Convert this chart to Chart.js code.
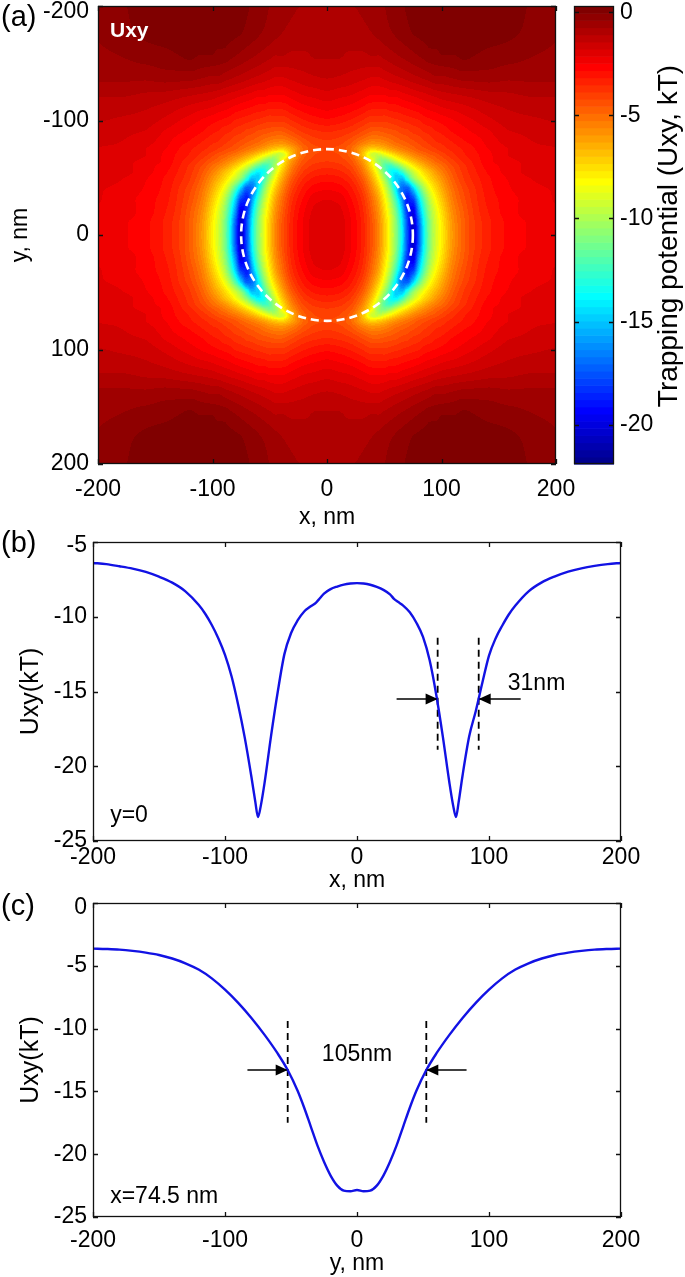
<!DOCTYPE html>
<html>
<head>
<meta charset="utf-8">
<title>Trapping potential Uxy</title>
<script src="https://cdn.jsdelivr.net/npm/chart.js@4.4.1/dist/chart.umd.min.js"></script>
<style>
  html, body { margin: 0; padding: 0; background: #ffffff; }
  #fig { position: relative; width: 685px; height: 1277px; overflow: hidden; background: #ffffff; }
  #fig canvas { position: absolute; left: 0; top: 0; }
</style>
</head>
<body>
<div id="fig">
  <canvas id="mapCanvas" width="685" height="1277"></canvas>
  <canvas id="barCanvas" width="685" height="1277"></canvas>
  <canvas id="profXCanvas" width="685" height="1277"></canvas>
  <canvas id="profYCanvas" width="685" height="1277"></canvas>
</div>
<script>
// ================= DATA =================
// (a) Uxy map (kT). The map is symmetric in x and y; values read on |x|, |y| nodes.
const mapTicks = [-200, -100, 0, 100, 200];
const gridX = [0,10,20,30,40,45,50,55,60,65,70,75,80,85,90,95,100,110,120,130,140,160,180,200];
const gridY = [0,10,20,30,40,50,55,60,65,70,75,80,90,100,120,140,160,180,200];
const uxyGrid = [
 /* y=0   */ [-1.8,-1.9,-2.4,-3.2,-4.6,-5.6,-7.0,-8.6,-10.6,-13.5,-17.5,-20.5,-17.5,-13.5,-10.8,-9.2,-8.0,-5.9,-4.6,-3.8,-3.3,-2.7,-2.4,-2.2],
 /* y=10  */ [-1.8,-1.9,-2.4,-3.2,-4.6,-5.6,-7.0,-8.6,-10.7,-13.6,-17.6,-20.4,-17.3,-13.4,-10.7,-9.1,-7.9,-5.8,-4.6,-3.8,-3.3,-2.7,-2.4,-2.2],
 /* y=20  */ [-1.9,-2.0,-2.5,-3.3,-4.8,-5.8,-7.3,-9.0,-11.2,-14.3,-18.2,-19.8,-16.2,-12.8,-10.3,-8.8,-7.6,-5.6,-4.5,-3.7,-3.2,-2.6,-2.3,-2.2],
 /* y=30  */ [-2.1,-2.2,-2.7,-3.5,-5.1,-6.2,-7.8,-9.7,-12.2,-15.5,-18.8,-18.3,-14.8,-11.8,-9.6,-8.2,-7.1,-5.3,-4.3,-3.6,-3.1,-2.6,-2.3,-2.1],
 /* y=40  */ [-2.5,-2.6,-3.0,-3.9,-5.7,-7.0,-8.7,-10.9,-13.8,-16.8,-17.5,-15.2,-12.3,-10.1,-8.5,-7.4,-6.5,-5.0,-4.1,-3.5,-3.0,-2.5,-2.2,-2.1],
 /* y=50  */ [-3.0,-3.1,-3.5,-4.5,-6.6,-8.2,-10.2,-12.6,-14.8,-15.0,-12.8,-10.6,-9.2,-8.1,-7.2,-6.5,-5.8,-4.6,-3.8,-3.3,-2.9,-2.4,-2.1,-2.0],
 /* y=55  */ [-3.3,-3.4,-3.8,-4.9,-7.2,-9.0,-11.2,-13.4,-14.0,-12.9,-11.0,-9.5,-8.3,-7.4,-6.7,-6.0,-5.4,-4.4,-3.7,-3.2,-2.8,-2.3,-2.0,-1.9],
 /* y=60  */ [-3.6,-3.7,-4.1,-5.3,-7.9,-9.8,-11.8,-12.6,-11.8,-10.4,-9.1,-8.0,-7.2,-6.5,-5.9,-5.4,-5.0,-4.2,-3.6,-3.1,-2.7,-2.3,-2.0,-1.9],
 /* y=65  */ [-3.9,-4.0,-4.4,-5.8,-8.5,-10.4,-11.0,-10.3,-9.2,-8.2,-7.4,-6.7,-6.1,-5.6,-5.2,-4.8,-4.5,-3.9,-3.4,-3.0,-2.6,-2.2,-2.0,-1.8],
 /* y=70  */ [-4.1,-4.2,-4.7,-6.5,-9.3,-9.5,-8.8,-8.0,-7.3,-6.6,-6.1,-5.6,-5.2,-4.9,-4.6,-4.4,-4.1,-3.6,-3.2,-2.9,-2.6,-2.1,-1.9,-1.8],
 /* y=75  */ [-4.2,-4.3,-4.8,-6.2,-7.3,-7.1,-6.7,-6.2,-5.8,-5.4,-5.1,-4.8,-4.5,-4.3,-4.1,-3.9,-3.7,-3.4,-3.1,-2.8,-2.5,-2.1,-1.9,-1.8],
 /* y=80  */ [-4.0,-4.1,-4.5,-5.3,-5.9,-5.8,-5.6,-5.3,-5.0,-4.8,-4.6,-4.4,-4.2,-4.0,-3.8,-3.6,-3.5,-3.2,-2.9,-2.7,-2.4,-2.0,-1.8,-1.7],
 /* y=90  */ [-3.5,-3.6,-3.8,-4.2,-4.6,-4.6,-4.5,-4.4,-4.3,-4.1,-4.0,-3.8,-3.7,-3.5,-3.4,-3.2,-3.1,-2.8,-2.6,-2.4,-2.2,-1.8,-1.7,-1.6],
 /* y=100 */ [-2.9,-3.0,-3.2,-3.5,-3.8,-3.8,-3.8,-3.7,-3.6,-3.5,-3.4,-3.3,-3.2,-3.0,-2.9,-2.8,-2.7,-2.5,-2.3,-2.1,-1.9,-1.6,-1.5,-1.4],
 /* y=120 */ [-2.0,-2.1,-2.2,-2.4,-2.6,-2.6,-2.6,-2.5,-2.5,-2.4,-2.3,-2.2,-2.1,-2.0,-1.9,-1.8,-1.7,-1.6,-1.5,-1.4,-1.3,-1.2,-1.1,-1.1],
 /* y=140 */ [-1.35,-1.4,-1.5,-1.6,-1.7,-1.7,-1.6,-1.5,-1.4,-1.3,-1.2,-1.1,-1.0,-0.9,-0.8,-0.7,-0.7,-0.6,-0.5,-0.5,-0.5,-0.6,-0.6,-0.6],
 /* y=160 */ [-1.0,-1.0,-1.1,-1.1,-1.0,-1.0,-0.9,-0.8,-0.7,-0.6,-0.5,-0.4,-0.3,-0.2,-0.1,-0.1,0.0,0.0,0.1,0.0,-0.1,-0.2,-0.35,-0.45],
 /* y=180 */ [-0.85,-0.85,-0.85,-0.8,-0.7,-0.6,-0.5,-0.4,-0.3,-0.2,-0.1,0.0,0.05,0.1,0.15,0.2,0.2,0.25,0.25,0.25,0.2,0.05,-0.15,-0.35],
 /* y=200 */ [-0.75,-0.75,-0.75,-0.7,-0.6,-0.5,-0.4,-0.3,-0.2,-0.1,0.0,0.05,0.1,0.15,0.2,0.25,0.25,0.3,0.3,0.3,0.25,0.1,-0.1,-0.3]
];
const colorMin = -21.9, colorMax = 0.3;
const colorbarTicks = [0, -5, -10, -15, -20];
const circleRadius = 75;

// (b) profile at y = 0
const profTicks = [-200, -100, 0, 100, 200];
const bYTicks = [-5, -10, -15, -20, -25];
const bX = [-200,-190,-180,-170,-160,-150,-140,-130,-120,-115,-110,-105,-100,-95,-90,-85,-80,-77,-75,-73,-70,-65,-60,-55,-50,-45,-40,-35,-31,-28,-25,-20,-15,-10,-5,0,5,10,15,20,25,28,31,35,40,45,50,55,60,65,70,73,75,77,80,85,90,95,100,105,110,115,120,130,140,150,160,170,180,190,200];
const bU = [-6.40,-6.48,-6.62,-6.78,-7.00,-7.32,-7.72,-8.30,-9.20,-9.80,-10.55,-11.45,-12.55,-14.00,-15.90,-18.10,-20.70,-22.40,-23.40,-22.70,-21.10,-17.90,-15.00,-12.50,-11.10,-10.25,-9.65,-9.30,-9.05,-8.75,-8.45,-8.15,-7.98,-7.85,-7.78,-7.75,-7.78,-7.86,-8.00,-8.20,-8.50,-8.80,-9.00,-9.25,-9.70,-10.40,-11.35,-12.90,-15.20,-18.00,-21.10,-22.70,-23.40,-22.40,-20.60,-18.00,-16.30,-14.40,-12.60,-11.45,-10.60,-9.85,-9.25,-8.30,-7.70,-7.30,-6.98,-6.76,-6.60,-6.48,-6.40];
const bMarkX = [61.1, 92.2];
const bMarkU = [-11.4, -18.9];
const bArrowFrom = [30, 124];
const bArrowTo = [61.1, 92.2];
const bArrowU = -15.5;

// (c) profile at x = 74.5 nm
const cYTicks = [0, -5, -10, -15, -20, -25];
const cY = [-200,-190,-180,-170,-160,-150,-140,-130,-120,-110,-100,-90,-80,-70,-60,-52.5,-45,-40,-35,-30,-25,-20,-15,-10,-5,0,5,10,15,20,25,30,35,40,45,52.5,60,70,80,90,100,110,120,130,140,150,160,170,180,190,200];
const cU = [-3.63,-3.66,-3.71,-3.81,-3.95,-4.14,-4.42,-4.80,-5.30,-6.00,-6.90,-7.95,-9.15,-10.50,-12.00,-13.30,-14.95,-16.30,-17.80,-19.30,-20.60,-21.70,-22.50,-22.90,-22.95,-22.85,-22.95,-22.90,-22.50,-21.70,-20.60,-19.30,-17.80,-16.30,-14.95,-13.30,-12.00,-10.50,-9.15,-7.95,-6.90,-6.00,-5.30,-4.80,-4.42,-4.14,-3.95,-3.81,-3.71,-3.66,-3.63];
const cMarkY = [-52.5, 52.5];
const cMarkU = [-9.4, -17.5];
const cArrowFrom = [-83, 83];
const cArrowTo = [-52.5, 52.5];
const cArrowU = -13.3;

// ================= STYLE / HELPERS =================
const FONT = "'Liberation Sans', Arial, Helvetica, sans-serif";
const FS = 23;
const BLUE = 'rgb(18,18,228)';
Chart.defaults.font.family = FONT;
Chart.defaults.font.size = FS;
Chart.defaults.color = '#000';

function matlabJet(m) {
  const n = Math.ceil(m / 4);
  const u = [];
  for (let i = 1; i <= n; i++) u.push(i / n);
  for (let i = 1; i <= n - 1; i++) u.push(1);
  for (let i = n; i >= 1; i--) u.push(i / n);
  const off = Math.ceil(n / 2) - (m % 4 === 1 ? 1 : 0);
  const R = new Array(m).fill(0), G = new Array(m).fill(0), B = new Array(m).fill(0);
  for (let k = 0; k < u.length; k++) {
    const g = off + k + 1, r = g + n, b = g - n;
    if (g >= 1 && g <= m) G[g - 1] = u[k];
    if (r >= 1 && r <= m) R[r - 1] = u[k];
    if (b >= 1 && b <= m) B[b - 1] = u[k];
  }
  return R.map((_, i) => [Math.round(R[i] * 255), Math.round(G[i] * 255), Math.round(B[i] * 255)]);
}
const JET = matlabJet(64);
function colorOf(v) {
  let i = Math.floor((v - colorMin) / (colorMax - colorMin) * 64);
  if (i < 0) i = 0; if (i > 63) i = 63;
  return JET[i];
}
function slopeAt(xa, va, k) {
  const n = xa.length;
  if (k === 0) return 0;
  if (k === n - 1) return (va[n - 1] - va[n - 2]) / (xa[n - 1] - xa[n - 2]);
  const h0 = xa[k] - xa[k - 1], h1 = xa[k + 1] - xa[k];
  const d0 = (va[k] - va[k - 1]) / h0, d1 = (va[k + 1] - va[k]) / h1;
  if (d0 * d1 <= 0) return 0;
  const w1 = 2 * h1 + h0, w2 = h1 + 2 * h0;
  return (w1 + w2) / (w1 / d0 + w2 / d1);
}
function pchip(xa, va, x) {
  const n = xa.length;
  if (x <= xa[0]) return va[0];
  if (x >= xa[n - 1]) return va[n - 1];
  let k = 0; while (k < n - 2 && x > xa[k + 1]) k++;
  const h = xa[k + 1] - xa[k], t = (x - xa[k]) / h;
  const m0 = slopeAt(xa, va, k), m1 = slopeAt(xa, va, k + 1);
  const t2 = t * t, t3 = t2 * t;
  return (2 * t3 - 3 * t2 + 1) * va[k] + (t3 - 2 * t2 + t) * h * m0 + (-2 * t3 + 3 * t2) * va[k + 1] + (t3 - t2) * h * m1;
}

function axis(o) {
  const tfs = o.titleSize || FS;
  return {
    type: 'linear', min: o.min, max: o.max, position: o.position, reverse: !!o.reverse,
    display: o.display === undefined ? true : o.display,
    grid: { display: false, drawTicks: false }, border: { display: false },
    ticks: { padding: o.pad, autoSkip: false, maxRotation: 0, minRotation: 0, color: '#000', font: { size: FS } },
    title: o.title ? { display: true, text: o.title, padding: 0, color: '#000', font: { size: tfs } } : { display: false },
    afterBuildTicks: s => { if (o.ticks) s.ticks = o.ticks.map(v => ({ value: v })); },
    afterFit: s => {
      if (o.size !== undefined) { if (s.isHorizontal()) s.height = o.size; else s.width = o.size; }
      s.paddingLeft = 0; s.paddingRight = 0; s.paddingTop = 0; s.paddingBottom = 0;
    }
  };
}
function framePlugin(xTicks, yTicks, len) {
  return { id: 'frame', afterDatasetsDraw(chart) {
    const { ctx, chartArea: a, scales } = chart;
    ctx.save();
    ctx.strokeStyle = '#111'; ctx.lineWidth = 1.3;
    ctx.beginPath();
    if (xTicks) xTicks.forEach(v => {
      const p = Math.round(scales.x.getPixelForValue(v)) + 0.5;
      ctx.moveTo(p, a.bottom); ctx.lineTo(p, a.bottom - len);
      ctx.moveTo(p, a.top); ctx.lineTo(p, a.top + len);
    });
    if (yTicks) yTicks.forEach(v => {
      const p = Math.round(scales.y.getPixelForValue(v)) + 0.5;
      ctx.moveTo(a.left, p); ctx.lineTo(a.left + len, p);
      ctx.moveTo(a.right, p); ctx.lineTo(a.right - len, p);
    });
    ctx.stroke();
    ctx.strokeRect(a.left + 0.5, a.top + 0.5, a.right - a.left - 1, a.bottom - a.top - 1);
    ctx.restore();
  }};
}
function nudgePlugin(axisId, label, dy) {
  return { id: 'nudge', beforeDraw(chart) {
    const s = chart.scales[axisId];
    const items = s.getLabelItems(chart.chartArea);
    items.forEach(it => { if (String(it.label) === String(label)) it.options.translation[1] += dy; });
  }};
}
function pixelTextPlugin(items) {
  return { id: 'pixtext', afterDraw(chart) {
    const ctx = chart.ctx;
    items.forEach(t => {
      ctx.save();
      ctx.font = t.font; ctx.fillStyle = t.color || '#000';
      ctx.textAlign = t.align || 'left'; ctx.textBaseline = t.baseline || 'alphabetic';
      ctx.translate(t.px, t.py);
      if (t.rotate) ctx.rotate(t.rotate);
      ctx.fillText(t.text, 0, 0);
      ctx.restore();
    });
  }};
}
function dataTextPlugin(items) {
  return { id: 'datatext', afterDatasetsDraw(chart) {
    const { ctx, scales: { x, y } } = chart;
    items.forEach(t => {
      ctx.save();
      ctx.font = t.font; ctx.fillStyle = t.color || '#000';
      ctx.textAlign = t.align || 'left'; ctx.textBaseline = 'middle';
      ctx.fillText(t.text, x.getPixelForValue(t.x), y.getPixelForValue(t.y));
      ctx.restore();
    });
  }};
}
function arrowHeadPlugin(from, to, level) {
  return { id: 'arrowheads', afterDatasetsDraw(chart) {
    const { ctx, scales: { x, y } } = chart;
    ctx.save(); ctx.fillStyle = '#000';
    to.forEach((tx, i) => {
      const px = x.getPixelForValue(tx), py = y.getPixelForValue(level);
      const dir = Math.sign(tx - from[i]);
      const L = 12, W = 5.5;
      ctx.beginPath();
      ctx.moveTo(px, py);
      ctx.lineTo(px - dir * L, py - W);
      ctx.lineTo(px - dir * L, py + W);
      ctx.closePath(); ctx.fill();
    });
    ctx.restore();
  }};
}
function profileDatasets(xs, us, marks, markU, aFrom, aTo, aU) {
  const ds = [{
    data: xs.map((x, i) => ({ x: x, y: us[i] })),
    borderColor: BLUE, borderWidth: 2.4, pointRadius: 0, fill: false,
    cubicInterpolationMode: 'monotone'
  }];
  marks.forEach(m => ds.push({
    data: [{ x: m, y: markU[0] }, { x: m, y: markU[1] }],
    borderColor: '#000', borderWidth: 1.8, borderDash: [7, 5], pointRadius: 0, fill: false
  }));
  aFrom.forEach((f, i) => ds.push({
    data: [{ x: f, y: aU }, { x: aTo[i], y: aU }],
    borderColor: '#000', borderWidth: 1.5, pointRadius: 0, fill: false
  }));
  return ds;
}
const baseOpts = { responsive: false, animation: false, devicePixelRatio: 1, events: [] };

// ================= (a) MAP =================
const heatPlugin = { id: 'heat', beforeDatasetsDraw(chart) {
  const { ctx, chartArea: a, scales: { x: xs, y: ys } } = chart;
  const w = Math.round(a.right - a.left), h = Math.round(a.bottom - a.top);
  const nR = gridY.length;
  const cols = [];
  for (let i = 0; i < w; i++) {
    const xv = Math.abs(xs.getValueForPixel(a.left + i + 0.5));
    const arr = new Array(nR);
    for (let r = 0; r < nR; r++) arr[r] = pchip(gridX, uxyGrid[r], xv);
    cols.push(arr);
  }
  const yv = [];
  for (let j = 0; j < h; j++) yv.push(Math.abs(ys.getValueForPixel(a.top + j + 0.5)));
  const off = document.createElement('canvas'); off.width = w; off.height = h;
  const octx = off.getContext('2d');
  const img = octx.createImageData(w, h);
  for (let i = 0; i < w; i++) {
    const col = cols[i];
    for (let j = 0; j < h; j++) {
      const c = colorOf(pchip(gridY, col, yv[j]));
      const k = (j * w + i) * 4;
      img.data[k] = c[0]; img.data[k + 1] = c[1]; img.data[k + 2] = c[2]; img.data[k + 3] = 255;
    }
  }
  octx.putImageData(img, 0, 0);
  ctx.drawImage(off, a.left, a.top);
}};
const circlePlugin = { id: 'circle', afterDatasetsDraw(chart) {
  const { ctx, scales: { x: xs, y: ys } } = chart;
  const cx = xs.getPixelForValue(0), cy = ys.getPixelForValue(0);
  const rx = Math.abs(xs.getPixelForValue(circleRadius) - cx);
  const ry = Math.abs(ys.getPixelForValue(circleRadius) - cy);
  ctx.save();
  ctx.beginPath(); ctx.ellipse(cx, cy, rx, ry, 0, 0, 2 * Math.PI);
  ctx.setLineDash([8, 5]); ctx.lineWidth = 2.6; ctx.strokeStyle = '#ffffff'; ctx.stroke();
  ctx.restore();
  ctx.save();
  ctx.font = "bold 21px " + FONT; ctx.fillStyle = '#ffffff'; ctx.textBaseline = 'alphabetic';
  ctx.fillText('Uxy', chart.chartArea.left + 12, chart.chartArea.top + 31);
  ctx.restore();
}};

new Chart(document.getElementById('mapCanvas'), {
  type: 'scatter',
  data: { datasets: [] },
  options: Object.assign({}, baseOpts, {
    layout: { padding: { left: 7, top: 6, right: 129, bottom: 746 } },
    plugins: { legend: { display: false }, tooltip: { enabled: false } },
    scales: {
      x: axis({ min: -200, max: 200, position: 'bottom', ticks: mapTicks, pad: 12, size: 67, title: 'x, nm' }),
      y: axis({ min: -200, max: 200, position: 'left', reverse: true, ticks: mapTicks, pad: 9, size: 91, title: 'y, nm' })
    }
  }),
  plugins: [heatPlugin, circlePlugin, framePlugin(mapTicks, mapTicks, 5), nudgePlugin('y', '-200', 6),
    pixelTextPlugin([{ text: '(a)', font: '29px ' + FONT, px: 1, py: 26 }])]
});

// ================= COLORBAR =================
const barPlugin = { id: 'bar', beforeDatasetsDraw(chart) {
  const { ctx, chartArea: a, scales: { y } } = chart;
  ctx.save();
  for (let i = 0; i < 64; i++) {
    const v0 = colorMin + (colorMax - colorMin) * i / 64;
    const v1 = colorMin + (colorMax - colorMin) * (i + 1) / 64;
    const p0 = y.getPixelForValue(v0), p1 = y.getPixelForValue(v1);
    const c = JET[i];
    ctx.fillStyle = 'rgb(' + c[0] + ',' + c[1] + ',' + c[2] + ')';
    ctx.fillRect(a.left, p1, a.right - a.left, p0 - p1 + 0.6);
  }
  ctx.restore();
}};
new Chart(document.getElementById('barCanvas'), {
  type: 'scatter',
  data: { datasets: [] },
  options: Object.assign({}, baseOpts, {
    layout: { padding: { left: 574, top: 6, right: 11, bottom: 813 } },
    plugins: { legend: { display: false }, tooltip: { enabled: false } },
    scales: {
      x: axis({ min: 0, max: 1, position: 'bottom', display: false }),
      y: axis({ min: colorMin, max: colorMax, position: 'right', ticks: colorbarTicks, pad: 6, size: 60 })
    }
  }),
  plugins: [barPlugin, framePlugin(null, colorbarTicks, 5),
    pixelTextPlugin([{ text: 'Trapping potential (Uxy, kT)', font: '28px ' + FONT, px: 669, py: 236, align: 'center', baseline: 'middle', rotate: -Math.PI / 2 }])]
});

// ================= (b) PROFILE y = 0 =================
new Chart(document.getElementById('profXCanvas'), {
  type: 'line',
  data: { datasets: profileDatasets(bX, bU, bMarkX, bMarkU, bArrowFrom, bArrowTo, bArrowU) },
  options: Object.assign({}, baseOpts, {
    layout: { padding: { left: 16, top: 542, right: 64, bottom: 383 } },
    plugins: { legend: { display: false }, tooltip: { enabled: false } },
    scales: {
      x: axis({ min: -200, max: 200, position: 'bottom', ticks: profTicks, pad: 3, size: 53, title: 'x, nm' }),
      y: axis({ min: -25, max: -5, position: 'left', ticks: bYTicks, pad: 6, size: 77, title: 'Uxy(kT)', titleSize: 25 })
    }
  }),
  plugins: [framePlugin(profTicks, bYTicks, 5), arrowHeadPlugin(bArrowFrom, bArrowTo, bArrowU), nudgePlugin('y', '-5', 4),
    dataTextPlugin([
      { text: '31nm', font: FS + 'px ' + FONT, x: 136, y: -14.45, align: 'center' },
      { text: 'y=0', font: FS + 'px ' + FONT, x: -187, y: -23.3, align: 'left' }
    ]),
    pixelTextPlugin([{ text: '(b)', font: '29px ' + FONT, px: 1, py: 552 }])]
});

// ================= (c) PROFILE x = 74.5 nm =================
new Chart(document.getElementById('profYCanvas'), {
  type: 'line',
  data: { datasets: profileDatasets(cY, cU, cMarkY, cMarkU, cArrowFrom, cArrowTo, cArrowU) },
  options: Object.assign({}, baseOpts, {
    layout: { padding: { left: 16, top: 903, right: 64, bottom: 0 } },
    plugins: { legend: { display: false }, tooltip: { enabled: false } },
    scales: {
      x: axis({ min: -200, max: 200, position: 'bottom', ticks: profTicks, pad: 10, size: 60, title: 'y, nm' }),
      y: axis({ min: -25, max: 0, position: 'left', ticks: cYTicks, pad: 6, size: 77, title: 'Uxy(kT)', titleSize: 25 })
    }
  }),
  plugins: [framePlugin(profTicks, cYTicks, 5), arrowHeadPlugin(cArrowFrom, cArrowTo, cArrowU), nudgePlugin('y', '0', 5),
    dataTextPlugin([
      { text: '105nm', font: FS + 'px ' + FONT, x: 0, y: -12.05, align: 'center' },
      { text: 'x=74.5 nm', font: FS + 'px ' + FONT, x: -187, y: -23.4, align: 'left' }
    ]),
    pixelTextPlugin([{ text: '(c)', font: '29px ' + FONT, px: 1, py: 915 }])]
});
</script>
</body>
</html>
